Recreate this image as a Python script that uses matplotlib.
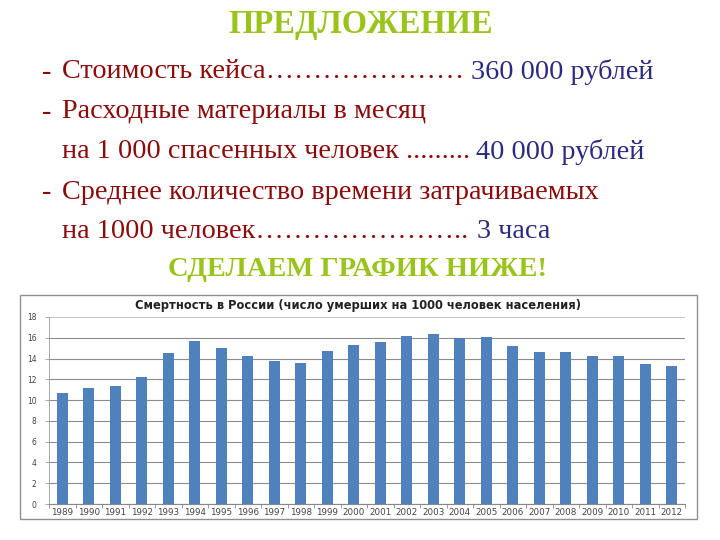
import matplotlib
matplotlib.use("Agg")
import matplotlib.pyplot as plt
from matplotlib.patches import Rectangle
import numpy as np

# данные: смертность в России (число умерших на 1000 человек)
years = [1989, 1990, 1991, 1992, 1993, 1994, 1995, 1996, 1997, 1998, 1999, 2000,
         2001, 2002, 2003, 2004, 2005, 2006, 2007, 2008, 2009, 2010, 2011, 2012]
deaths = [10.7, 11.2, 11.4, 12.2, 14.5, 15.7, 15.0, 14.2, 13.8, 13.6, 14.7, 15.3,
          15.6, 16.2, 16.4, 16.0, 16.1, 15.2, 14.6, 14.6, 14.2, 14.2, 13.5, 13.3]
y_ticks = [0, 2, 4, 6, 8, 10, 12, 14, 16, 18]

chart_title = 'Смертность в России (число умерших на 1000 человек населения)'

GREEN = '#9ac31c'
RED = '#8b0a0a'
BLUE = '#2a2a80'
BAR = '#4f81bd'

W, H = 720, 540
fig = plt.figure(figsize=(7.2, 5.4), dpi=100)
fig.patch.set_facecolor('white')

def fx(px):
    return px / W

def fy(py):
    return 1 - py / H

serif = 'Liberation Serif'
FS = 20.3

# ----- текст слайда -----
fig.text(fx(361), fy(25), 'ПРЕДЛОЖЕНИЕ', family=serif, fontsize=23.5, fontweight='bold',
         color=GREEN, ha='center', va='center')

lines = [
    (72, True, 'Стоимость кейса' + '…' * 7, '360 000 рублей', 471),
    (112, True, 'Расходные материалы в месяц', None, None),
    (152, False, 'на 1 000 спасенных человек .........', '40 000 рублей', 476),
    (192, True, 'Среднее количество времени затрачиваемых', None, None),
    (232, False, 'на 1000 человек' + '…' * 7 + '..', '3 часа', 477),
]
for y, dash, red_txt, blue_txt, bx in lines:
    if dash:
        fig.text(fx(42), fy(y), '-', family=serif, fontsize=FS, color=RED, va='center')
    fig.text(fx(62), fy(y), red_txt, family=serif, fontsize=FS, color=RED, va='center')
    if blue_txt:
        fig.text(fx(bx), fy(y), blue_txt, family=serif, fontsize=FS, color=BLUE, va='center')

fig.text(fx(357), fy(270), 'СДЕЛАЕМ ГРАФИК НИЖЕ!', family=serif, fontsize=20.5,
         fontweight='bold', color=GREEN, ha='center', va='center')

# ----- рамка диаграммы -----
fig.patches.append(Rectangle((fx(20), fy(519)), fx(697) - fx(20), fy(295) - fy(519),
                             transform=fig.transFigure, fill=False, edgecolor='#909090',
                             linewidth=1.0))

fig.text(fx(358), fy(305), chart_title, fontsize=8.3, fontweight='bold', color='#222222',
         ha='center', va='center')

# ----- столбцы -----
ax = fig.add_axes([fx(49), fy(504), fx(685) - fx(49), fy(317) - fy(504)])
x = np.arange(len(years))
ax.bar(x, deaths, width=0.42, color=BAR, zorder=3)
ax.set_xlim(-0.5, len(years) - 0.5)
ax.set_ylim(0, 18)
ax.set_yticks(y_ticks)
ax.set_yticklabels([str(t) for t in y_ticks], fontsize=5.5, color='#444444')
ax.set_xticks(x)
ax.set_xticklabels([str(yr) for yr in years], fontsize=6.3, color='#444444')
ax.tick_params(axis='x', length=0, pad=3)
ax.tick_params(axis='y', length=3, color='#999999', width=0.6, pad=6)
ax.set_xticks(np.arange(len(years) + 1) - 0.5, minor=True)
ax.tick_params(axis='x', which='minor', length=3, color='#888888', width=0.6)
ax.grid(True, axis='y', color='#8c8c8c', linewidth=0.8, zorder=0)
ax.get_ygridlines()[-1].set_color('#c8c8c8')
for s in ['top', 'right']:
    ax.spines[s].set_visible(False)
ax.spines['left'].set_color('#999999')
ax.spines['left'].set_linewidth(0.6)
ax.spines['bottom'].set_color('#888888')
ax.spines['bottom'].set_linewidth(0.8)

fig.savefig('out.png', dpi=100)
